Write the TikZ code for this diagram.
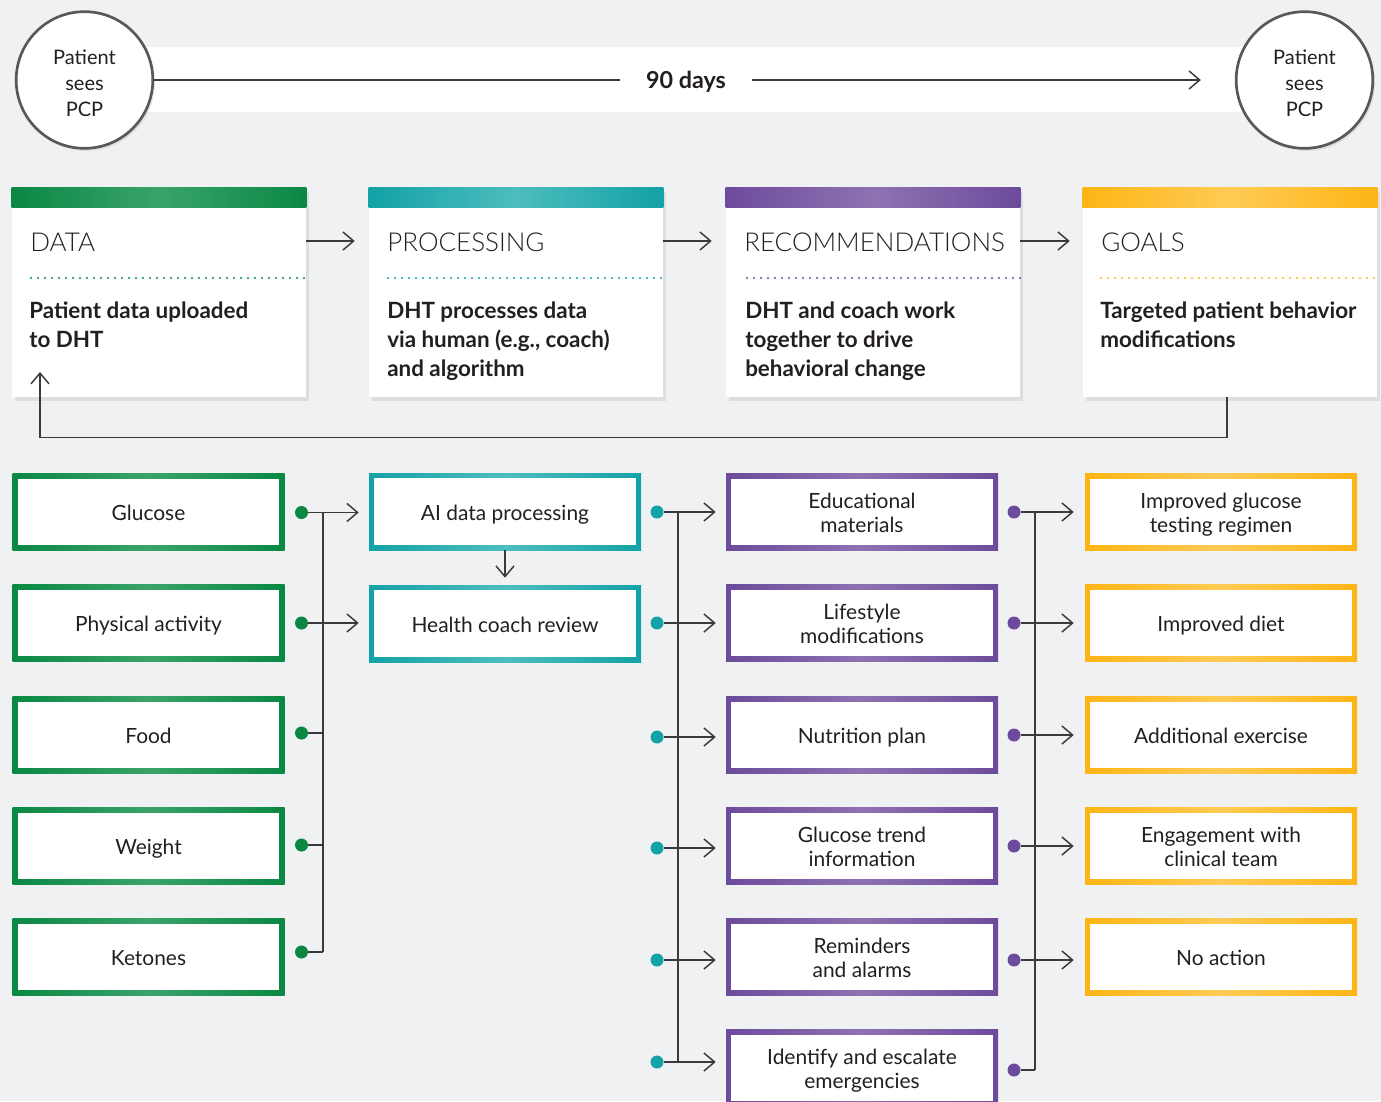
\documentclass[tikz,border=0pt]{standalone}
\usepackage{fontspec}
\setmainfont{Lato}
\newfontfamily\lightfont{Lato Light}
\usetikzlibrary{arrows.meta,shadows,calc}
\newcommand\boxtxt[2][-3pt]{\raisebox{#1}[\height][\depth]{\begin{tabular}{@{}c@{}}#2\end{tabular}}}
\definecolor{bg}{HTML}{F0F1F3}
\definecolor{txt}{HTML}{231F20}
\definecolor{ln}{HTML}{3A3A3C}
\definecolor{circ}{HTML}{58585B}
\definecolor{gA}{HTML}{0A8843}
\definecolor{gB}{HTML}{3AA36A}
\definecolor{tA}{HTML}{13A2A6}
\definecolor{tB}{HTML}{4DBDBE}
\definecolor{pA}{HTML}{6D4B9C}
\definecolor{pB}{HTML}{8E72B2}
\definecolor{oA}{HTML}{FDB515}
\definecolor{oB}{HTML}{FFCB55}
\tikzset{
 line/.style={draw=ln, line width=1.1pt},
 arr/.style={line, -{Straight Barb[length=8pt,width=13.5pt]}},
 lbl/.style={font=\fontsize{15.7}{18}\selectfont, text=txt},
 cbox/.style 2 args={lbl, minimum width=204pt, minimum height=57.75pt, inner sep=0pt,
   left color=#1, right color=#1, middle color=#2,
   path picture={\fill[white] ([xshift=4.1pt,yshift=-4.1pt]path picture bounding box.north west) rectangle ([xshift=-4.1pt,yshift=4.1pt]path picture bounding box.south east);}},
 gbox/.style={cbox={gA}{gB}},
 tbox/.style={cbox={tA}{tB}},
 pbox/.style={cbox={pA}{pB}},
 obox/.style={cbox={oA}{oB}},
 card/.style={fill=white, minimum width=220.5pt, minimum height=156.75pt, inner sep=0pt,
   drop shadow={opacity=0.16, shadow xshift=2.5pt, shadow yshift=-3pt}},
 ttl/.style={anchor=base west, inner sep=0pt, font=\lightfont\fontsize{19.5}{24}\selectfont, text=txt},
 body/.style={anchor=north west, inner sep=0pt, align=left, font=\bfseries\fontsize{16.8}{21.75}\selectfont, text=txt},
 dotl/.style={line width=1.8pt, line cap=round, dash pattern=on 0pt off 5.25pt},
 pcp/.style={circle, draw=circ, line width=2pt, fill=white, minimum size=102.5pt, inner sep=0pt,
   text=txt, font=\fontsize{15}{19.5}\selectfont,
   drop shadow={opacity=0.16, shadow xshift=1.5pt, shadow yshift=-2pt}},
 days/.style={minimum width=99pt, inner sep=0pt, font=\bfseries\fontsize{17.5}{21}\selectfont, text=txt},
 bullet/.style={circle, fill=#1, minimum size=9.75pt, inner sep=0pt},
}
\begin{document}
\begin{tikzpicture}[x=0.75pt,y=-0.75pt]
\useasboundingbox[fill=bg] (0,0) rectangle (1381,1101);
% ---- top timeline
\fill[white] (84,47) rectangle (1305,112);
\node[pcp] (pcpL) at (84.5,80) {\boxtxt[-3.75pt]{Patient\\sees\\PCP}};
\node[pcp] (pcpR) at (1304.5,80) {\boxtxt[-3.75pt]{Patient\\sees\\PCP}};
\node[days] (days) at (686,80) {\raisebox{-1.5pt}[\height][\depth]{90 days}};
\draw[line] (pcpL) -- (days);
\draw[arr, shorten >=25.5pt] (days) -- (pcpR);
% ---- cards
\node[card] (dcard) at (159,292.5) {};
\node[card] (pcard) at (516,292.5) {};
\node[card] (rcard) at (873,292.5) {};
\node[card] (gcard) at (1230,292.5) {};
\shade[left color=gA,right color=gA,middle color=gB] (dcard.north west) rectangle ($(dcard.north east)+(0,19.5)$);
\shade[left color=tA,right color=tA,middle color=tB] (pcard.north west) rectangle ($(pcard.north east)+(0,19.5)$);
\shade[left color=pA,right color=pA,middle color=pB] (rcard.north west) rectangle ($(rcard.north east)+(0,19.5)$);
\shade[left color=oA,right color=oA,middle color=oB] (gcard.north west) rectangle ($(gcard.north east)+(0,19.5)$);
\node[ttl] (dttl) at (30,251) {DATA};
\node[ttl] (pttl) at (387,251) {PROCESSING};
\node[ttl] (rttl) at (744,251) {RECOMMENDATIONS};
\node[ttl] (gttl) at (1101,251) {GOALS};
\draw[dotl, gA] (31,278) -- (306,278);
\draw[dotl, tA] (388,278) -- (663,278);
\draw[dotl, pA] (747,278) -- (1023,278);
\draw[dotl, oA] (1101,278) -- (1377,278);
\node[body] (dbody) at (29,302) {Patient data uploaded\\to DHT};
\node[body] (pbody) at (387,302) {DHT processes data\\via human (e.g., coach)\\and algorithm};
\node[body] (rbody) at (745,302) {DHT and coach work\\together to drive\\behavioral change};
\node[body] (gbody) at (1100,302) {Targeted patient behavior\\modifications};
\draw[arr, shorten >=10.5pt] (dcard.east |- 0,241) -- (pcard.west |- 0,241);
\draw[arr, shorten >=10.5pt] (pcard.east |- 0,241) -- (rcard.west |- 0,241);
\draw[arr, shorten >=9.75pt] (rcard.east |- 0,241) -- (gcard.west |- 0,241);
\coordinate (fbend) at (40,372);
\coordinate (fbbase) at (40,437.5);
\draw[arr] ([xshift=-2.25pt]gcard.south) |- (fbbase) -- (fbend);
% ---- lower boxes
\node[gbox] (g1) at (148.5,512) {\boxtxt{Glucose}};
\node[gbox] (g2) at (148.5,623) {\boxtxt{Physical activity}};
\node[gbox] (g3) at (148.5,735) {\boxtxt{Food}};
\node[gbox] (g4) at (148.5,846) {\boxtxt{Weight}};
\node[gbox] (g5) at (148.5,957) {\boxtxt{Ketones}};
\node[tbox] (t1) at (505,511.5) {\boxtxt{AI data processing}};
\node[tbox] (t2) at (505,623.5) {\boxtxt{Health coach review}};
\node[pbox] (p1) at (862,512) {\boxtxt{Educational\\materials}};
\node[pbox] (p2) at (862,623) {\boxtxt{Lifestyle\\modifications}};
\node[pbox] (p3) at (862,735) {\boxtxt{Nutrition plan}};
\node[pbox] (p4) at (862,846) {\boxtxt{Glucose trend\\information}};
\node[pbox] (p5) at (862,957) {\boxtxt{Reminders\\and alarms}};
\node[pbox] (p6) at (862,1068) {\boxtxt{Identify and escalate\\emergencies}};
\node[obox] (o1) at (1221,512) {\boxtxt{Improved glucose\\testing regimen}};
\node[obox] (o2) at (1221,623) {\boxtxt{Improved diet}};
\node[obox] (o3) at (1221,735) {\boxtxt{Additional exercise}};
\node[obox] (o4) at (1221,846) {\boxtxt{Engagement with\\clinical team}};
\node[obox] (o5) at (1221,957) {\boxtxt{No action}};
% ---- green connectors
\coordinate (gbusT) at (323,512.5);
\coordinate (gbusB) at (323,952);
\draw[line] (gbusT) -- (gbusB);
\node[bullet=gA] (gd1) at (301.5,512.5) {};
\node[bullet=gA] (gd2) at (301.5,623) {};
\node[bullet=gA] (gd3) at (301.5,733) {};
\node[bullet=gA] (gd4) at (301.5,845) {};
\node[bullet=gA] (gd5) at (301.5,952) {};
\draw[arr, shorten >=7.5pt] (gd1) -- (gd1 -| t1.west);
\draw[arr, shorten >=7.5pt] (gd2) -- (gd2 -| t2.west);
\draw[line] (gd3) -- (gd3 -| gbusT);
\draw[line] (gd4) -- (gd4 -| gbusT);
\draw[line] (gd5) -- (gd5 -| gbusT);
\draw[arr, shorten >=5.25pt] (t1) -- (t2);
% ---- teal connectors
\coordinate (tbusT) at (678,512);
\coordinate (tbusB) at (678,1062);
\draw[line] (tbusT) -- (tbusB);
\node[bullet=tA] (td1) at (657,512) {};
\node[bullet=tA] (td2) at (657,623) {};
\node[bullet=tA] (td3) at (657,737) {};
\node[bullet=tA] (td4) at (657,848) {};
\node[bullet=tA] (td5) at (657,960) {};
\node[bullet=tA] (td6) at (657,1062) {};
\foreach \i in {1,...,6}{\draw[arr, shorten >=7.5pt] (td\i) -- (td\i -| p\i.west);}
% ---- purple connectors
\coordinate (pbusT) at (1035,512);
\coordinate (pbusB) at (1035,1070);
\draw[line] (pbusT) -- (pbusB);
\node[bullet=pA] (pd1) at (1014,512) {};
\node[bullet=pA] (pd2) at (1014,623) {};
\node[bullet=pA] (pd3) at (1014,735) {};
\node[bullet=pA] (pd4) at (1014,846) {};
\node[bullet=pA] (pd5) at (1014,960) {};
\node[bullet=pA] (pd6) at (1014,1070) {};
\foreach \i in {1,...,5}{\draw[arr, shorten >=8.25pt] (pd\i) -- (pd\i -| o\i.west);}
\draw[line] (pd6) -- (pd6 -| pbusT);
\end{tikzpicture}
\end{document}
